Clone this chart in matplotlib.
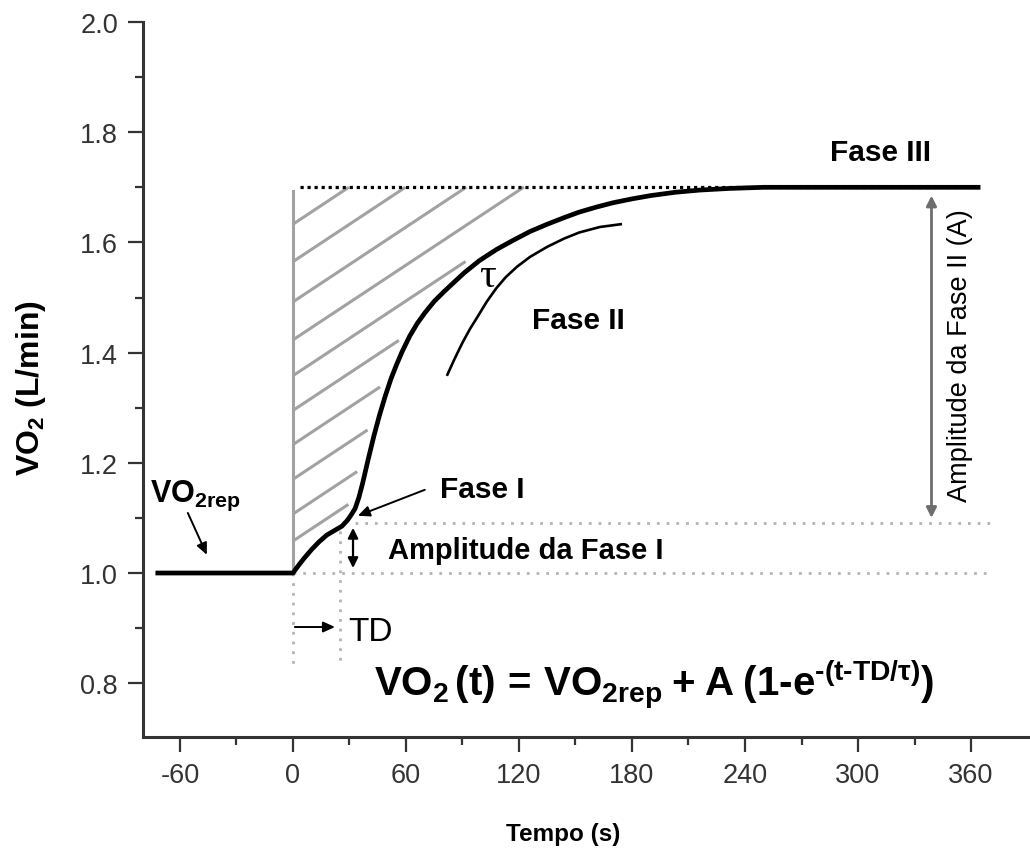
import numpy as np
import matplotlib
matplotlib.use("Agg")
import matplotlib.pyplot as plt

# ---------------- data ----------------
time_s = [-73, 0, 3, 6, 10, 14, 18, 22, 26, 29, 31, 33, 35, 37, 40, 43, 46, 49, 52, 55,
          58, 62, 66, 70, 75, 80, 85, 91, 99, 108, 117, 126, 135, 144, 152, 161, 170,
          180, 190, 203, 216, 232, 250, 300, 365]
vo2 = [1.0, 1.0, 1.014, 1.027, 1.043, 1.057, 1.069, 1.077, 1.085, 1.096, 1.106, 1.117,
       1.137, 1.163, 1.207, 1.249, 1.287, 1.321, 1.352, 1.378,
       1.402, 1.43, 1.453, 1.472, 1.493, 1.51, 1.526, 1.545, 1.567, 1.587, 1.604, 1.62,
       1.633, 1.645, 1.655, 1.664, 1.672, 1.679, 1.685, 1.691, 1.695, 1.698, 1.70,
       1.70, 1.70]

fase2_t = [82, 86, 90, 94, 98, 103, 108, 113, 119, 126, 135, 144, 152, 163, 174]
fase2_v = [1.36, 1.39, 1.418, 1.443, 1.465, 1.493, 1.517, 1.537, 1.556, 1.574, 1.592,
           1.607, 1.618, 1.628, 1.633]

baseline_vo2 = 1.0
phase1_vo2 = 1.09
steady_vo2 = 1.70
td_s = 25
hatch_starts = [1.058, 1.107, 1.170, 1.233, 1.295, 1.358, 1.423, 1.492, 1.565, 1.633]

x_ticks = [-60, 0, 60, 120, 180, 240, 300, 360]
x_minor = [-30, 30, 90, 150, 210, 270, 330]
y_ticks = [0.8, 1.0, 1.2, 1.4, 1.6, 1.8, 2.0]
y_minor = [0.9, 1.1, 1.3, 1.5, 1.7, 1.9]
y_ticklabels = ["0.8", "1.0", "1.2", "1.4", "1.6", "1.8", "2.0"]

# ---------------- style ----------------
plt.rcParams["font.family"] = ["Liberation Sans", "DejaVu Sans"]
plt.rcParams["axes.unicode_minus"] = False
plt.rcParams["mathtext.fontset"] = "custom"
plt.rcParams["mathtext.rm"] = "Liberation Sans"
plt.rcParams["mathtext.bf"] = "Liberation Sans:bold"
plt.rcParams["mathtext.it"] = "Liberation Sans:italic"
plt.rcParams["mathtext.sf"] = "Liberation Sans"

AX_COL = "#333333"
HATCH_COL = "#a2a2a2"
DOT_COL = "#b4b4b4"

fig = plt.figure(figsize=(10.3, 8.54), dpi=100)
ax = fig.add_axes([143 / 1030, 116 / 854, 887 / 1030, 715 / 854])
ax.set_xlim(-79.6, 391.3)
ax.set_ylim(0.7024, 2.0)

for s in ["top", "right"]:
    ax.spines[s].set_visible(False)
for s in ["left", "bottom"]:
    ax.spines[s].set_linewidth(2.2)
    ax.spines[s].set_color(AX_COL)

ax.set_xticks(x_ticks)
ax.set_xticks(x_minor, minor=True)
ax.set_yticks(y_ticks)
ax.set_yticks(y_minor, minor=True)
ax.set_yticklabels(y_ticklabels)
ax.tick_params(which="major", length=11, width=1.6, color=AX_COL, labelsize=19.5,
               labelcolor=AX_COL, pad=7)
ax.tick_params(which="minor", length=6, width=1.6, color=AX_COL)

ax.set_xlabel("Tempo (s)", fontsize=17.5, fontweight="bold", va="center")
ax.xaxis.set_label_coords((563 - 143) / 887, (738 - 835) / 715)
ax.set_ylabel(r"$\mathbf{VO_2}$ (L/min)", fontsize=23, fontweight="bold", va="center")
ax.yaxis.set_label_coords((31 - 143) / 887, (738 - 388) / 715)

# ---------------- hatch lines (computed against the curve) ----------------
T = ax.transData
curve_px = T.transform(np.column_stack([time_s, vo2]))
dense = []
for p, q in zip(curve_px[:-1], curve_px[1:]):
    n = max(2, int(np.hypot(*(q - p))) + 1)
    s = np.linspace(0, 1, n)[:, None]
    dense.append(p + s * (q - p))
dense = np.vstack(dense)
top_px = T.transform((0, steady_vo2))[1]
ang = np.deg2rad(33.5)
direc = np.array([np.cos(ang), np.sin(ang)])
gap_px = 8.0
for y0 in hatch_starts:
    start = T.transform((0, y0))
    steps = np.arange(0, 700, 0.5)
    pts = start + steps[:, None] * direc
    dist = np.min(np.hypot(pts[:, None, 0] - dense[None, :, 0],
                           pts[:, None, 1] - dense[None, :, 1]), axis=1)
    stop = np.where((dist < gap_px) | (pts[:, 1] >= top_px))[0]
    idx = stop[0] if len(stop) else len(pts) - 1
    end = T.inverted().transform(pts[idx])
    ax.plot([0, end[0]], [y0, end[1]], color=HATCH_COL, lw=2.2,
            solid_capstyle="butt", zorder=2)
ax.plot([0, 0], [baseline_vo2, steady_vo2 - 0.006], color=HATCH_COL, lw=2.2, zorder=2)

# ---------------- dotted guide lines ----------------
dot = (0, (1, 2.5))
ax.plot([0, 370], [baseline_vo2, baseline_vo2], color=DOT_COL, lw=2, ls=dot, zorder=1)
ax.plot([33, 370], [phase1_vo2, phase1_vo2], color=DOT_COL, lw=2, ls=dot, zorder=1)
ax.plot([0, 0], [baseline_vo2, 0.835], color=DOT_COL, lw=2, ls=dot, zorder=1)
ax.plot([td_s, td_s], [1.076, 0.84], color=DOT_COL, lw=2, ls=dot, zorder=1)
ax.plot([3.7, 365], [steady_vo2, steady_vo2], color="black", lw=2.3,
        ls=(0, (1, 1.2)), zorder=3)

# ---------------- curves ----------------
ax.plot(time_s, vo2, color="black", lw=3.4, solid_joinstyle="round",
        solid_capstyle="butt", zorder=4)
ax.plot(fase2_t, fase2_v, color="black", lw=1.9, solid_joinstyle="round", zorder=4)

# ---------------- arrows ----------------
head = dict(arrowstyle="-|>,head_length=0.7,head_width=0.32", color="black", lw=1.4,
            shrinkA=0, shrinkB=0)
ax.annotate("", xy=(-45.7, 1.033), xytext=(-55.8, 1.109), arrowprops=head)
ax.annotate("", xy=(34.5, 1.104), xytext=(70, 1.151), arrowprops=head)
ax.annotate("", xy=(22.3, 0.902), xytext=(1, 0.902), arrowprops=head)
dbl = dict(arrowstyle="<|-|>,head_length=0.6,head_width=0.3", color="black", lw=1.6,
           shrinkA=0, shrinkB=0)
ax.annotate("", xy=(31.9, 1.082), xytext=(31.9, 1.009), arrowprops=dbl)
dbl2 = dict(arrowstyle="<|-|>,head_length=0.6,head_width=0.3", color="#6e6e6e", lw=2.0,
            shrinkA=0, shrinkB=0)
ax.annotate("", xy=(339, 1.685), xytext=(339, 1.10), arrowprops=dbl2)

# ---------------- texts ----------------
ax.text(-76, 1.131, r"$\mathbf{VO_{2rep}}$", fontsize=22, ha="left", va="baseline")
ax.text(78, 1.138, "Fase I", fontsize=21.5, fontweight="bold", ha="left", va="baseline")
ax.text(50.4, 1.027, "Amplitude da Fase I", fontsize=21, fontweight="bold",
        ha="left", va="baseline")
ax.text(29.2, 0.878, "TD", fontsize=24, ha="left", va="baseline")
ax.text(127, 1.445, "Fase II", fontsize=21.5, fontweight="bold", ha="left", va="baseline")
ax.text(285, 1.749, "Fase III", fontsize=21.5, fontweight="bold", ha="left", va="baseline")
ax.text(103, 1.54, "τ", fontsize=30, family="Liberation Serif", ha="center", va="center")
ax.text(354, 1.396, "Amplitude da Fase II (A)", fontsize=19.5, rotation=90,
        ha="center", va="center")
ax.text(43.0, 0.778,
        "$\\mathbf{VO_2\\,(t)\\,{=}\\,VO_{2rep}\\;{+}\\;A\\;(1\u2010e^{\u2010(t\u2010TD/\\tau)})}$",
        fontsize=29, ha="left", va="baseline")

fig.savefig("out.png", dpi=100)
